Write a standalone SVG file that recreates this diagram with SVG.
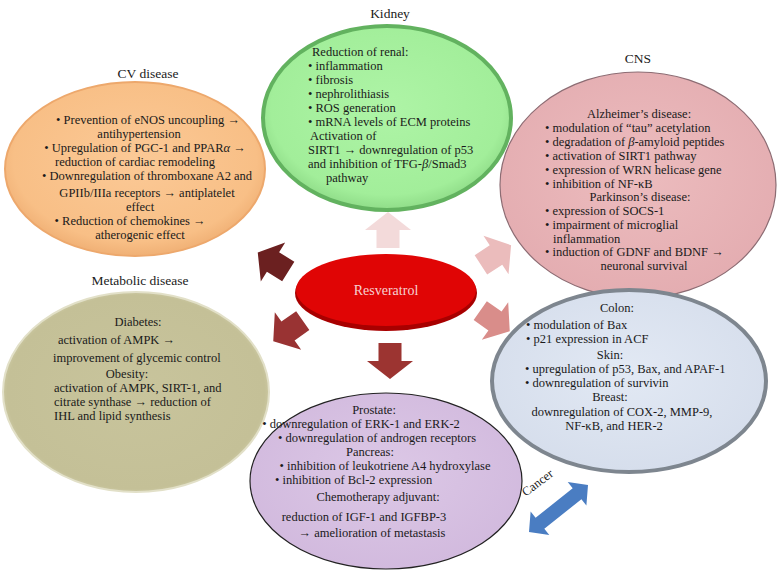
<svg xmlns="http://www.w3.org/2000/svg" xmlns:xlink="http://www.w3.org/1999/xlink" width="782" height="577" viewBox="0 0 782 577">
<style>
text{font-family:"Liberation Serif","Times New Roman",serif;font-size:12.5px;fill:#1a1a1a}
.c{text-anchor:middle}
.lbl{font-size:13.5px}
.res{fill:#f6d2d2;font-size:14px;text-anchor:middle}
</style>
<defs>
<radialGradient id="gCV" cx="50%" cy="45%" r="55%"><stop offset="0" stop-color="#fbc996"/><stop offset="0.85" stop-color="#f8bf86"/><stop offset="1" stop-color="#f0b075"/></radialGradient>
<radialGradient id="gKid" cx="50%" cy="45%" r="55%"><stop offset="0" stop-color="#aef4a6"/><stop offset="0.85" stop-color="#a2ee9a"/><stop offset="1" stop-color="#8fdc88"/></radialGradient>
<radialGradient id="gCNS" cx="50%" cy="45%" r="55%"><stop offset="0" stop-color="#ecbcbe"/><stop offset="1" stop-color="#e4adb1"/></radialGradient>
<radialGradient id="gMet" cx="50%" cy="50%" r="55%"><stop offset="0" stop-color="#c8c49c"/><stop offset="0.88" stop-color="#c4c097"/><stop offset="1" stop-color="#dcdabc"/></radialGradient>
<radialGradient id="gPro" cx="50%" cy="45%" r="55%"><stop offset="0" stop-color="#dcc8e6"/><stop offset="1" stop-color="#d2bade"/></radialGradient>
<radialGradient id="gCan" cx="50%" cy="45%" r="55%"><stop offset="0" stop-color="#e2e9f4"/><stop offset="1" stop-color="#d6deec"/></radialGradient>
<path id="blk" d="M-18,-11.5 L0,-11.5 L0,-23 L18,0 L0,23 L0,11.5 L-18,11.5 Z"/>
</defs>

<g id="resveratrol">
<ellipse cx="386" cy="293" rx="91" ry="38" fill="#a80000"/>
<ellipse cx="386" cy="290" rx="90" ry="36" fill="#e00505"/>
<text class="res" x="386" y="295">Resveratrol</text>
</g>

<g id="cv">
<text class="c lbl" x="148" y="78">CV disease</text>
<ellipse cx="135" cy="169" rx="130" ry="87" fill="url(#gCV)" stroke="#eda86c" stroke-width="2"/>
<text class="c" x="148" y="124">• Prevention of eNOS uncoupling →</text>
<text class="c" x="139" y="138">antihypertension</text>
<text class="c" x="145" y="152">• Upregulation of PGC-1 and PPAR<tspan font-style="italic">α</tspan> →</text>
<text class="c" x="135" y="166">reduction of cardiac remodeling</text>
<text class="c" x="147" y="180">• Downregulation of thromboxane A2 and</text>
<text class="c" x="147" y="197">GPIIb/IIIa receptors → antiplatelet</text>
<text class="c" x="140" y="211">effect</text>
<text class="c" x="130" y="225">• Reduction of chemokines →</text>
<text class="c" x="140" y="239">atherogenic effect</text>
</g>

<g id="kidney">
<text class="c lbl" x="390" y="18">Kidney</text>
<ellipse cx="387" cy="118" rx="124" ry="92" fill="url(#gKid)" stroke="#62b25f" stroke-width="4"/>
<text x="312" y="56">Reduction of renal:</text>
<text x="308" y="70">• inflammation</text>
<text x="308" y="84">• fibrosis</text>
<text x="308" y="98">• nephrolithiasis</text>
<text x="308" y="112">• ROS generation</text>
<text x="308" y="126">• mRNA levels of ECM proteins</text>
<text x="310" y="140">Activation of</text>
<text x="308" y="154">SIRT1 → downregulation of p53</text>
<text x="308" y="168">and inhibition of TFG-<tspan font-style="italic">β</tspan>/Smad3</text>
<text x="326" y="182">pathway</text>
</g>

<g id="cns">
<text class="c lbl" x="638" y="63">CNS</text>
<ellipse cx="638" cy="185" rx="138" ry="113" fill="url(#gCNS)" stroke="#8c6c73" stroke-width="1.2"/>
<text class="c" x="639" y="118">Alzheimer’s disease:</text>
<text x="545" y="132">• modulation of “tau” acetylation</text>
<text x="545" y="146">• degradation of <tspan font-style="italic">β</tspan>-amyloid peptides</text>
<text x="545" y="160">• activation of SIRT1 pathway</text>
<text x="545" y="174">• expression of WRN helicase gene</text>
<text x="545" y="188">• inhibition of NF-κB</text>
<text class="c" x="640" y="201">Parkinson’s disease:</text>
<text x="545" y="215">• expression of SOCS-1</text>
<text x="545" y="229">• impairment of microglial</text>
<text x="553" y="243">inflammation</text>
<text x="545" y="256">• induction of GDNF and BDNF →</text>
<text class="c" x="644" y="270">neuronal survival</text>
</g>

<g id="metabolic">
<text class="c lbl" x="140" y="285">Metabolic disease</text>
<ellipse cx="136" cy="392" rx="133" ry="100" fill="url(#gMet)" stroke="#e2e0c8" stroke-width="2"/>
<text class="c" x="138" y="326">Diabetes:</text>
<text x="58" y="344">activation of AMPK →</text>
<text x="53" y="362">improvement of glycemic control</text>
<text class="c" x="127" y="378">Obesity:</text>
<text x="54" y="392">activation of AMPK, SIRT-1, and</text>
<text x="54" y="406">citrate synthase → reduction of</text>
<text x="54" y="420">IHL and lipid synthesis</text>
</g>

<g id="prostate">
<ellipse cx="386" cy="481" rx="136" ry="88" fill="url(#gPro)" stroke="#222" stroke-width="1.2"/>
<text class="c" x="374" y="414">Prostate:</text>
<text class="c" x="361" y="428">• downregulation of ERK-1 and ERK-2</text>
<text class="c" x="377" y="442">• downregulation of androgen receptors</text>
<text class="c" x="370" y="456">Pancreas:</text>
<text class="c" x="385" y="470">• inhibition of leukotriene A4 hydroxylase</text>
<text x="275" y="484">• inhibition of Bcl-2 expression</text>
<text class="c" x="378" y="501">Chemotherapy adjuvant:</text>
<text class="c" x="364" y="521">reduction of IGF-1 and IGFBP-3</text>
<text class="c" x="372" y="537">→ amelioration of metastasis</text>
</g>

<g id="cancer">
<ellipse cx="629" cy="381" rx="137" ry="91" fill="url(#gCan)" stroke="#7e868f" stroke-width="4"/>
<text class="c" x="617" y="312">Colon:</text>
<text x="526" y="329">• modulation of Bax</text>
<text x="526" y="343">• p21 expression in ACF</text>
<text class="c" x="610" y="359">Skin:</text>
<text x="525" y="373">• upregulation of p53, Bax, and APAF-1</text>
<text x="525" y="387">• downregulation of survivin</text>
<text class="c" x="610" y="401">Breast:</text>
<text class="c" x="622" y="416">downregulation of COX-2, MMP-9,</text>
<text class="c" x="614" y="430">NF-κB, and HER-2</text>
</g>

<g id="connectors">
<use href="#blk" xlink:href="#blk" fill="#f3dada" transform="translate(388,230) rotate(-90)"/>
<use href="#blk" xlink:href="#blk" fill="#9c3431" transform="translate(390,361) rotate(90)"/>
<use href="#blk" xlink:href="#blk" fill="#6b2020" transform="translate(273,262) rotate(212)"/>
<use href="#blk" xlink:href="#blk" fill="#ebbcbc" transform="translate(496,255) rotate(-33)"/>
<use href="#blk" xlink:href="#blk" fill="#993333" transform="translate(288,331) rotate(145)"/>
<use href="#blk" xlink:href="#blk" fill="#d98d8a" transform="translate(495,321) rotate(35)"/>
<polygon fill="#4a7dc2" transform="translate(558.5,508.5) rotate(-38.5)" points="-37.7,0 -23.7,-15 -23.7,-7 23.7,-7 23.7,-15 37.7,0 23.7,15 23.7,7 -23.7,7 -23.7,15"/>
<text class="c" font-size="12" transform="translate(540,486) rotate(-37)">Cancer</text>
</g>
</svg>
